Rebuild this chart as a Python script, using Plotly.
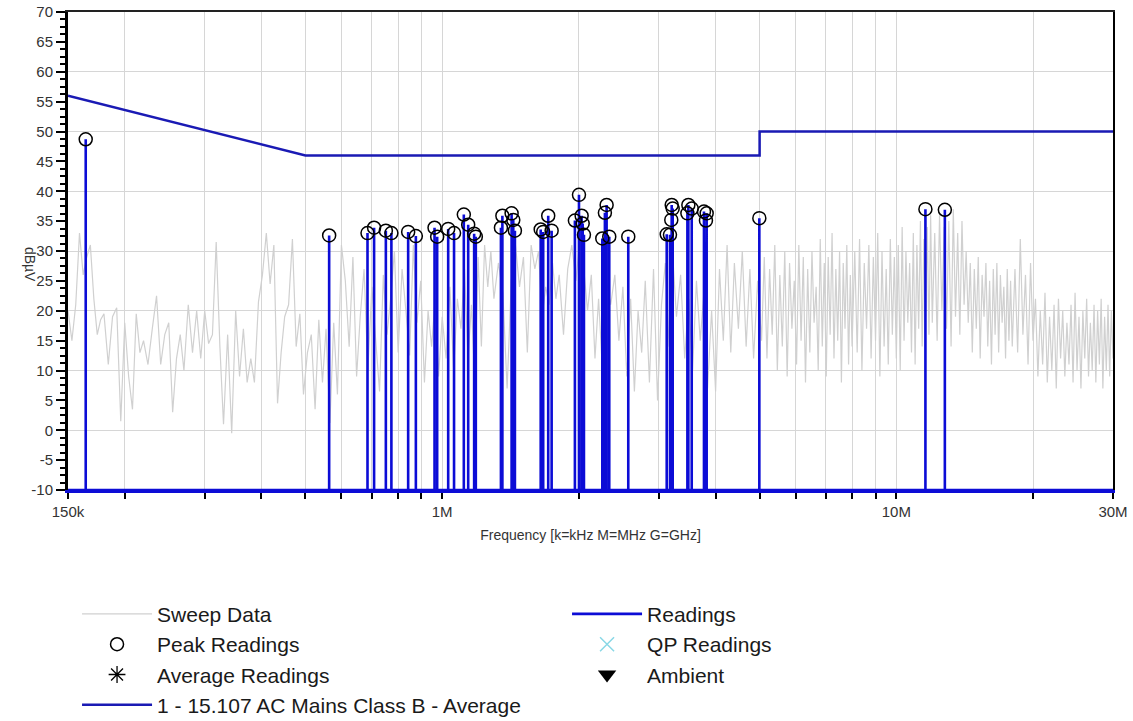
import math
import plotly.graph_objects as go

# ---------------- data ----------------
sweep_freq_mhz = [
    0.150, 0.153, 0.156, 0.159, 0.162, 0.165, 0.168, 0.171, 0.174, 0.177, 0.180,
    0.184, 0.188, 0.192, 0.196, 0.200, 0.204, 0.208, 0.212, 0.216, 0.220,
    0.225, 0.230, 0.235, 0.240, 0.245, 0.250, 0.255, 0.260, 0.265, 0.270,
    0.276, 0.282, 0.288, 0.294, 0.300, 0.306, 0.312, 0.318, 0.324, 0.330,
    0.337, 0.344, 0.351, 0.358, 0.365, 0.372, 0.379, 0.386,
    0.394, 0.402, 0.410, 0.418, 0.426, 0.434, 0.442, 0.450,
    0.459, 0.468, 0.477, 0.486, 0.495,
    0.505, 0.515, 0.525, 0.535, 0.545, 0.555,
    0.566, 0.577, 0.588,
    0.600, 0.612, 0.624, 0.636, 0.648, 0.660,
    0.673, 0.686,
    0.700, 0.714, 0.728, 0.742, 0.756,
    0.770, 0.785, 0.800,
    0.816, 0.832, 0.848, 0.864, 0.880,
    0.897, 0.914, 0.931, 0.948, 0.965, 0.982,
    1.000,
    1.02, 1.04, 1.06, 1.08, 1.10, 1.12, 1.14, 1.16, 1.18, 1.20, 1.22, 1.24, 1.26, 1.28, 1.30,
    1.33, 1.36, 1.39, 1.42, 1.45, 1.48, 1.51, 1.54, 1.57, 1.60, 1.63, 1.66, 1.69, 1.72, 1.75, 1.78, 1.81,
    1.85, 1.89, 1.93, 1.97, 2.01, 2.05, 2.09, 2.13, 2.17, 2.21, 2.25,
    2.30, 2.35, 2.40, 2.45, 2.50, 2.55, 2.60, 2.65, 2.70, 2.75, 2.80,
    2.86, 2.92, 2.98, 3.04, 3.10, 3.16, 3.22, 3.28,
    3.35, 3.42, 3.49, 3.56, 3.63, 3.70, 3.77, 3.84,
    3.92, 4.00, 4.08, 4.16, 4.24, 4.32, 4.40,
    4.49, 4.58, 4.67, 4.76, 4.85,
    4.95, 5.05,
    5.12, 5.19, 5.26, 5.33, 5.40, 5.47, 5.54, 5.61, 5.68, 5.75,
    5.82, 5.89, 5.96, 6.03, 6.10, 6.17, 6.24, 6.31, 6.38, 6.45,
    6.52, 6.59, 6.66, 6.73, 6.80, 6.87, 6.94, 7.01, 7.08, 7.15,
    7.22, 7.29, 7.36, 7.43, 7.50, 7.57, 7.64, 7.71, 7.78, 7.85,
    7.92, 7.99,
    8.1, 8.2, 8.3, 8.4, 8.5, 8.6, 8.7, 8.8, 8.9, 9.0,
    9.1, 9.2, 9.3, 9.4, 9.5, 9.6, 9.7, 9.8, 9.9, 10.0,
    10.1, 10.2, 10.3, 10.4, 10.5, 10.6, 10.7, 10.8, 10.9, 11.0,
    11.1, 11.2, 11.3, 11.4, 11.5, 11.6, 11.7, 11.8, 11.9, 12.0,
    12.15, 12.30, 12.45, 12.60, 12.75, 12.90, 13.05, 13.20, 13.35, 13.50,
    13.65, 13.80, 13.95, 14.10, 14.25, 14.40, 14.55, 14.70, 14.85, 15.00,
    15.15, 15.30, 15.45, 15.60, 15.75, 15.90, 16.05, 16.20, 16.35, 16.50,
    16.65, 16.80, 16.95, 17.10, 17.25, 17.40, 17.55, 17.70, 17.85, 18.00,
    18.25, 18.50, 18.75, 19.00, 19.25, 19.50, 19.75, 20.00,
    20.25, 20.50, 20.75, 21.00, 21.25, 21.50, 21.75, 22.00, 22.25, 22.50,
    22.75, 23.00, 23.25, 23.50, 23.75, 24.00, 24.25, 24.50, 24.75, 25.00,
    25.25, 25.50, 25.75, 26.00, 26.25, 26.50, 26.75, 27.00, 27.25, 27.50,
    27.75, 28.00, 28.25, 28.50, 28.75, 29.00, 29.25, 29.50, 29.75, 30.00,
]

sweep_dbuv = [
    20, 15, 21, 33, 26, 29, 31, 22, 16, 18.5, 19.5,
    11, 19, 20.5, 1.5, 18, 9, 3.5, 19.5, 13, 15,
    11, 17, 22.5, 11, 16, 18, 3, 12, 16, 10,
    21, 13, 20, 12, 20, 14.5, 16, 31.5, 14, 1,
    16, -0.5, 20, 9, 17, 8, 12, 8,
    21.5, 26, 33, 24.5, 31, 4.5, 13, 19,
    21, 32, 14, 19.5, 6,
    13, 16, 3.5, 18.5, 8, 17,
    1.2, 18, 6,
    31, 25, 14, 29, 9, 19,
    27, 10,
    24, 15, 6.5, 26, 16,
    22, 30, 13,
    27, 20, 12.5, 31, 18,
    25, 8, 20, 14, 22, 9,
    19,
    12, 24, 10, 22, 17, 27, 12, 21, 8, 29, 14, 31, 24, 30, 22,
    28, 23, 7, 25, 31, 24, 29, 13, 31, 27, 30, 19, 24, 21, 28, 22, 26,
    16, 27, 31, 25, 32, 27, 20, 26, 12, 22, 11,
    25, 21, 26, 15, 24, 9, 22, 6.5, 20, 13, 25,
    8, 27, 5, 21, 28, 14, 29, 19,
    26, 12, 22, 10, 25, 15, 23, 7,
    20, 6.5, 27, 15, 31, 13, 28,
    17, 30, 14, 27, 12,
    25, 15,
    29, 12, 27, 16, 31, 10, 26, 14, 30, 9,
    28, 17, 25, 11, 31, 15, 29, 8, 27, 13,
    30, 18, 24, 10, 32, 14, 28, 9, 29, 16,
    33, 12, 27, 15, 30, 8, 28, 17, 31, 11,
    26, 14,
    30, 13, 32, 10, 28, 17, 31, 12, 29, 15,
    33, 9, 30, 14, 27, 11, 32, 16, 29, 12,
    31, 10, 34, 15, 30, 18, 28, 13, 33, 11,
    31, 17, 35, 14, 32, 19, 34, 16, 36, 18,
    33, 15, 36, 20, 34, 17, 35, 14, 37, 19,
    33, 16, 35, 21, 30, 18, 28, 13, 27, 17,
    29, 12, 26, 19, 28, 14, 25, 11, 27, 16,
    28, 13, 26, 18, 24, 12, 27, 15, 25, 14,
    27, 13, 32, 16, 26, 11, 28, 15,
    22, 9, 20, 11, 23, 8, 19, 10, 21, 7,
    22, 12, 20, 9, 18, 11, 21, 8, 23, 10,
    19, 7, 20, 12, 22, 9, 18, 10, 21, 8,
    20, 11, 22, 7, 19, 10, 21, 9, 20, 12,
]

reading_freq_mhz = [
    0.1641, 0.5638, 0.6848, 0.7081, 0.7516, 0.7730, 0.8416, 0.8751, 0.9620, 0.9750,
    1.031, 1.062, 1.116, 1.141, 1.176, 1.186, 1.347, 1.357, 1.422, 1.434,
    1.446, 1.648, 1.669, 1.712, 1.742, 1.960, 2.001, 2.028, 2.039, 2.052,
    2.252, 2.282, 2.302, 2.333, 2.569, 3.122, 3.174, 3.195, 3.202, 3.218,
    3.467, 3.484, 3.544, 3.771, 3.809, 3.823, 4.993, 11.59, 12.79,
]
reading_dbuv = [
    48.7, 32.6, 33.0, 33.9, 33.4, 33.0, 33.2, 32.5, 33.9, 32.4,
    33.7, 33.0, 36.1, 34.4, 32.9, 32.4, 33.9, 35.9, 36.3, 35.2,
    33.4, 33.6, 33.2, 35.9, 33.4, 35.1, 39.4, 35.9, 34.6, 32.7,
    32.1, 36.4, 37.7, 32.4, 32.4, 32.8, 32.7, 35.2, 37.7, 37.1,
    36.3, 37.7, 37.1, 36.6, 35.1, 36.3, 35.5, 37.0, 36.9,
]

limit_freq_mhz = [0.15, 0.5, 5.0, 5.0, 30.0]
limit_dbuv = [56, 46, 46, 50, 50]

x_tick_mhz = [0.15, 0.2, 0.3, 0.4, 0.5, 0.6, 0.7, 0.8, 0.9,
              1, 2, 3, 4, 5, 6, 7, 8, 9, 10, 20, 30]
x_tick_text = ["150k", "", "", "", "", "", "", "", "",
               "1M", "", "", "", "", "", "", "", "", "10M", "", "30M"]

y_tick_vals = [-10, -5, 0, 5, 10, 15, 20, 25, 30, 35, 40, 45, 50, 55, 60, 65, 70]
y_tick_text = [str(v) for v in y_tick_vals]

y_min, y_max = -10, 70
f_min_mhz, f_max_mhz = 0.15, 30.0

assert len(sweep_freq_mhz) == len(sweep_dbuv)
assert len(reading_freq_mhz) == len(reading_dbuv)

# ---------------- styles ----------------
FONT = "Liberation Sans, Arial, sans-serif"
GRID = "#d6d6d6"
SWEEP = "#d0d0d0"
READ_BLUE = "#0c0cd6"
LIMIT_BLUE = "#1a1ab4"

# readings: stems rising from the -10 dBuV floor, joined along the floor
stem_x = [f_min_mhz * 1e6]
stem_y = [y_min]
for f, v in zip(reading_freq_mhz, reading_dbuv):
    stem_x += [f * 1e6, f * 1e6, f * 1e6]
    stem_y += [y_min, v, y_min]
stem_x.append(f_max_mhz * 1e6)
stem_y.append(y_min)

fig = go.Figure()

fig.add_trace(go.Scatter(
    x=[f * 1e6 for f in sweep_freq_mhz], y=sweep_dbuv, mode="lines",
    name="Sweep Data", line=dict(color=SWEEP, width=1.2), legendrank=1,
    hoverinfo="skip"))

fig.add_trace(go.Scatter(
    x=stem_x, y=stem_y, mode="lines", name="Readings",
    line=dict(color=READ_BLUE, width=2.6), legendrank=2))

fig.add_trace(go.Scatter(
    x=[f * 1e6 for f in reading_freq_mhz], y=reading_dbuv, mode="markers",
    name="Peak Readings", legendrank=3,
    marker=dict(symbol="circle-open", size=13, color="black",
                line=dict(color="black", width=1.5))))

fig.add_trace(go.Scatter(
    x=[None], y=[None], mode="markers", name="QP Readings", legendrank=4,
    marker=dict(symbol="x-thin-open", size=14, color="#8ad8e6",
                line=dict(color="#8ad8e6", width=1.5))))

fig.add_trace(go.Scatter(
    x=[None], y=[None], mode="markers", name="Average Readings", legendrank=5,
    marker=dict(symbol="asterisk-open", size=14, color="black",
                line=dict(color="black", width=1.3))))

fig.add_trace(go.Scatter(
    x=[None], y=[None], mode="markers", name="Ambient", legendrank=6,
    marker=dict(symbol="triangle-down", size=16, color="black")))

fig.add_trace(go.Scatter(
    x=[f * 1e6 for f in limit_freq_mhz], y=limit_dbuv, mode="lines",
    name="1 - 15.107 AC Mains Class B - Average", legendrank=7,
    line=dict(color=LIMIT_BLUE, width=2.5), xaxis="x2", yaxis="y2"))

xr = [math.log10(f_min_mhz * 1e6), math.log10(f_max_mhz * 1e6)]

fig.update_layout(
    width=1133, height=721,
    margin=dict(l=68, r=20, t=12, b=231, autoexpand=False),
    paper_bgcolor="white", plot_bgcolor="white",
    font=dict(family=FONT, color="#333333"),
    showlegend=True,
    xaxis=dict(
        type="log", range=xr, automargin=False,
        tickmode="array", tickvals=[f * 1e6 for f in x_tick_mhz], ticktext=x_tick_text,
        ticks="outside", ticklen=6, tickwidth=2, tickcolor="black",
        tickfont=dict(size=15, color="#333333"),
        showgrid=True, gridcolor=GRID, gridwidth=1,
        showline=True, linecolor=READ_BLUE, linewidth=3,
        zeroline=False,
        title=dict(text="Frequency [k=kHz M=MHz G=GHz]",
                   font=dict(size=14, color="#333333"), standoff=12),
    ),
    yaxis=dict(
        range=[y_min, y_max], automargin=False,
        tickmode="array", tickvals=y_tick_vals, ticktext=y_tick_text,
        ticks="outside", ticklen=9, tickwidth=2, tickcolor="black",
        tickfont=dict(size=15, color="#333333"),
        minor=dict(dtick=1.25, tick0=y_min, ticks="outside", ticklen=5,
                   tickwidth=2, tickcolor="black", showgrid=False),
        showgrid=False, zeroline=False,
        showline=True, linecolor="black", linewidth=3,
    ),
    xaxis2=dict(
        type="log", range=xr, overlaying="x", side="top", anchor="y2",
        automargin=False,
        showgrid=False, showticklabels=False, ticks="",
        showline=True, linecolor="#222222", linewidth=2, zeroline=False,
    ),
    yaxis2=dict(
        range=[y_min, y_max], overlaying="y", side="right", anchor="x2",
        automargin=False,
        tickmode="linear", tick0=y_min, dtick=10,
        showgrid=True, gridcolor=GRID, gridwidth=1,
        showticklabels=False, ticks="",
        showline=True, linecolor="black", linewidth=2, zeroline=False,
    ),
    legend=dict(
        orientation="h", xref="container", yref="container",
        x=0.068, xanchor="left", y=0.1765, yanchor="top",
        entrywidth=405, entrywidthmode="pixels", itemwidth=70,
        font=dict(size=21, family=FONT, color="#1a1a1a"),
        bgcolor="rgba(0,0,0,0)", tracegroupgap=0, itemsizing="trace",
    ),
    annotations=[dict(
        text="dBµV", xref="paper", yref="paper", x=-0.046, y=0.471,
        showarrow=False, textangle=90, font=dict(size=14, color="#333333"))],
)

fig.write_html("out.html")
